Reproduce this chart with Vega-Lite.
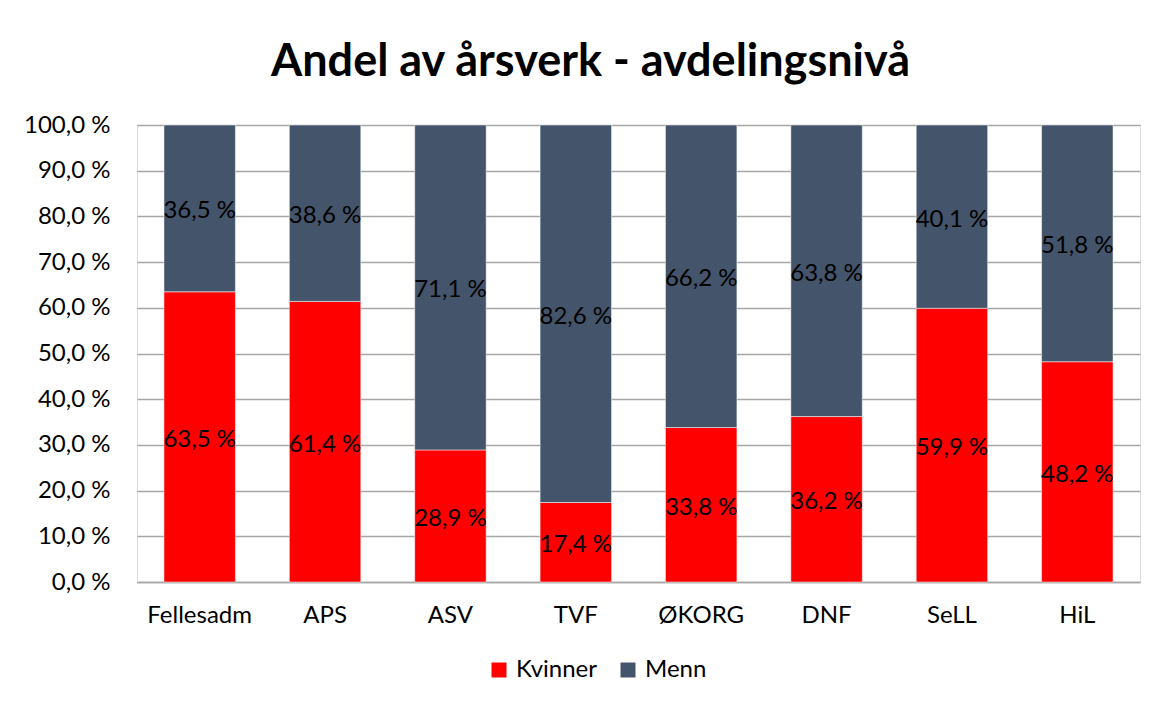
{
  "$schema": "https://vega.github.io/schema/vega-lite/v6.json",
  "width": 1003,
  "height": 457,
  "autosize": {"type": "none"},
  "padding": {"left": 137, "top": 125, "right": 22, "bottom": 122},
  "background": "white",
  "title": {
    "text": "Andel av årsverk - avdelingsnivå",
    "font": "Lato",
    "fontSize": 45,
    "fontWeight": "bold",
    "color": "black",
    "anchor": "middle",
    "dx": -48,
    "offset": 28
  },
  "data": {
    "values": [
      {"avd": "Fellesadm", "kjonn": "Kvinner", "verdi": 63.5},
      {"avd": "Fellesadm", "kjonn": "Menn", "verdi": 36.5},
      {"avd": "APS", "kjonn": "Kvinner", "verdi": 61.4},
      {"avd": "APS", "kjonn": "Menn", "verdi": 38.6},
      {"avd": "ASV", "kjonn": "Kvinner", "verdi": 28.9},
      {"avd": "ASV", "kjonn": "Menn", "verdi": 71.1},
      {"avd": "TVF", "kjonn": "Kvinner", "verdi": 17.4},
      {"avd": "TVF", "kjonn": "Menn", "verdi": 82.6},
      {"avd": "ØKORG", "kjonn": "Kvinner", "verdi": 33.8},
      {"avd": "ØKORG", "kjonn": "Menn", "verdi": 66.2},
      {"avd": "DNF", "kjonn": "Kvinner", "verdi": 36.2},
      {"avd": "DNF", "kjonn": "Menn", "verdi": 63.8},
      {"avd": "SeLL", "kjonn": "Kvinner", "verdi": 59.9},
      {"avd": "SeLL", "kjonn": "Menn", "verdi": 40.1},
      {"avd": "HiL", "kjonn": "Kvinner", "verdi": 48.2},
      {"avd": "HiL", "kjonn": "Menn", "verdi": 51.8}
    ]
  },
  "transform": [
    {"calculate": "replace(format(datum.verdi, '.1f'), '.', ',') + ' %'", "as": "etikett"},
    {"calculate": "datum.kjonn === 'Kvinner' ? 0 : 1", "as": "rekkefolge"}
  ],
  "encoding": {
    "x": {
      "field": "avd",
      "type": "nominal",
      "sort": null,
      "title": null,
      "scale": {"paddingInner": 0.43, "paddingOuter": 0.215},
      "axis": {
        "labelAngle": 0,
        "labelFont": "Lato",
        "labelFontSize": 24,
        "labelColor": "black",
        "labelPadding": 21,
        "ticks": false,
        "domainColor": "#A6A6A6",
        "domainWidth": 1.5
      }
    },
    "y": {
      "field": "verdi",
      "type": "quantitative",
      "stack": "zero",
      "title": null,
      "scale": {"domain": [0, 100], "nice": false},
      "axis": {
        "values": [0, 10, 20, 30, 40, 50, 60, 70, 80, 90, 100],
        "labelExpr": "replace(format(datum.value, '.1f'), '.', ',') + ' %'",
        "labelFont": "Lato",
        "labelFontSize": 24,
        "labelColor": "black",
        "labelPadding": 27,
        "ticks": false,
        "domain": false,
        "grid": true,
        "gridColor": "#A6A6A6",
        "gridWidth": 1.3
      }
    },
    "order": {"field": "rekkefolge", "type": "quantitative"}
  },
  "layer": [
    {
      "mark": {"type": "bar", "stroke": "white", "strokeWidth": 0.5},
      "encoding": {
        "color": {
          "field": "kjonn",
          "type": "nominal",
          "scale": {"domain": ["Kvinner", "Menn"], "range": ["#FF0000", "#44546A"]},
          "legend": {
            "title": null,
            "orient": "none",
            "direction": "horizontal",
            "legendX": 350,
            "legendY": 533,
            "symbolType": "square",
            "symbolSize": 225,
            "symbolStrokeWidth": 0,
            "symbolOpacity": 1,
            "labelFont": "Lato",
            "labelFontSize": 24,
            "labelColor": "black",
            "columnPadding": 18,
            "labelOffset": 5
          }
        }
      }
    },
    {
      "mark": {"type": "text", "font": "Lato", "fontSize": 24, "color": "black", "baseline": "middle", "align": "center", "dy": 3},
      "encoding": {
        "y": {"field": "verdi", "type": "quantitative", "stack": "zero", "bandPosition": 0.5},
        "text": {"field": "etikett"}
      }
    }
  ]
}
